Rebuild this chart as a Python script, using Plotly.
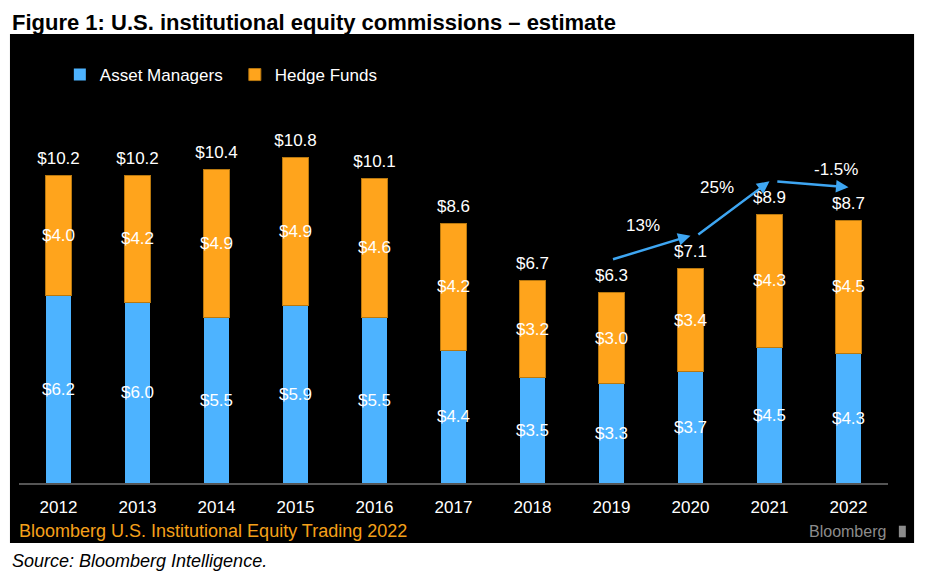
import plotly.graph_objects as go

years = ["2012", "2013", "2014", "2015", "2016", "2017", "2018", "2019", "2020", "2021", "2022"]
asset_managers = [6.2, 6.0, 5.5, 5.9, 5.5, 4.4, 3.5, 3.3, 3.7, 4.5, 4.3]
hedge_funds = [4.0, 4.2, 4.9, 4.9, 4.6, 4.2, 3.2, 3.0, 3.4, 4.3, 4.5]
totals = [10.2, 10.2, 10.4, 10.8, 10.1, 8.6, 6.7, 6.3, 7.1, 8.9, 8.7]
growth_labels = ["13%", "25%", "-1.5%"]  # 2019->2020, 2020->2021, 2021->2022

BLUE = "#4db3ff"
ORANGE = "#ffa41c"
ARROW = "#3ea6f2"
FONT = "Liberation Sans"

# orange segment heights so that each stack reaches the published total
hedge_heights = [t - a for t, a in zip(totals, asset_managers)]

fig = go.Figure()
fig.add_trace(go.Bar(
    x=years, y=asset_managers, name="Asset Managers",
    marker=dict(color=BLUE, line=dict(width=0)),
    text=["$%.1f" % v for v in asset_managers],
    textposition="inside", insidetextanchor="middle", textangle=0,
    constraintext="none", textfont=dict(color="white", size=17, family=FONT),
    width=0.32,
))
fig.add_trace(go.Bar(
    x=years, y=hedge_heights, name="Hedge Funds",
    marker=dict(color=ORANGE, line=dict(color="#b8780f", width=1)),
    text=["$%.1f" % v for v in hedge_funds],
    textposition="inside", insidetextanchor="middle", textangle=0,
    constraintext="none", textfont=dict(color="white", size=17, family=FONT),
    width=0.32,
))
# totals above the stacks (invisible markers just push the text up a little)
fig.add_trace(go.Scatter(
    x=years, y=totals, mode="markers+text",
    marker=dict(size=10, color="rgba(0,0,0,0)"),
    text=["$%.1f" % v for v in totals], textposition="top center",
    textfont=dict(color="white", size=17, family=FONT),
    showlegend=False, hoverinfo="skip", cliponaxis=False,
))

# growth arrows between the last years
annotations = []
lift = 1.1
idx0 = years.index("2019")
label_shift = [(-0.1, 0.75), (-0.2, 0.7), (0.3, 0.5)]
for k, lab in enumerate(growth_labels):
    i = idx0 + k
    x0, y0 = i + 0.0, totals[i] + lift
    x1, y1 = i + 1.0, totals[i + 1] + lift
    if k > 0:
        x0 += 0.08
    annotations.append(dict(
        x=x1, y=y1, ax=x0, ay=y0, xref="x", yref="y", axref="x", ayref="y",
        text="", showarrow=True, arrowhead=2, arrowsize=1, arrowwidth=2.5,
        arrowcolor=ARROW,
    ))
    dx, dy = label_shift[k]
    annotations.append(dict(
        x=(x0 + x1) / 2 + dx, y=(y0 + y1) / 2 + dy, xref="x", yref="y",
        text=lab, showarrow=False, font=dict(color="white", size=17, family=FONT),
    ))

annotations += [
    dict(x=-0.0104, y=1.271, xref="paper", yref="paper", xanchor="left", yanchor="middle",
         text="<b>Figure 1: U.S. institutional equity commissions – estimate</b>",
         showarrow=False, font=dict(color="black", size=22, family=FONT)),
    dict(x=-0.0023, y=-0.133, xref="paper", yref="paper", xanchor="left", yanchor="middle",
         text="Bloomberg U.S. Institutional Equity Trading 2022",
         showarrow=False, font=dict(color="#f5a01a", size=18, family=FONT)),
    dict(x=1.0, y=-0.133, xref="paper", yref="paper", xanchor="right", yanchor="middle",
         text="Bloomberg", showarrow=False, font=dict(color="#8c8c8c", size=16, family=FONT)),
    dict(x=-0.0104, y=-0.215, xref="paper", yref="paper", xanchor="left", yanchor="middle",
         text="<i>Source: Bloomberg Intelligence.</i>",
         showarrow=False, font=dict(color="black", size=18, family=FONT)),
]

shapes = [
    dict(type="rect", xref="paper", yref="paper", x0=-0.0104, x1=1.03, y0=-0.166, y1=1.240,
         fillcolor="black", line=dict(width=0), layer="below"),
    dict(type="rect", xref="paper", yref="paper", x0=1.0125, x1=1.0205, y0=-0.150, y1=-0.118,
         fillcolor="#8c8c8c", line=dict(width=0), layer="above"),
]

# the page body adds an 8px margin, so the figure is 8px smaller than the window
fig.update_layout(
    width=917, height=564,
    margin=dict(l=11, r=37, t=113, b=89),
    paper_bgcolor="white", plot_bgcolor="rgba(0,0,0,0)",
    barmode="stack", bargap=0.68,
    font=dict(family=FONT, color="white"),
    showlegend=True,
    legend=dict(orientation="h", x=0.047, y=1.127, xanchor="left", yanchor="middle",
                font=dict(color="white", size=17, family=FONT),
                bgcolor="rgba(0,0,0,0)", entrywidth=130, traceorder="normal"),
    xaxis=dict(range=[-0.5, len(years) - 0.5], showgrid=False, showline=True,
               linecolor="#555555", linewidth=2,
               ticks="outside", ticklen=8, tickcolor="black",
               tickfont=dict(color="white", size=17, family=FONT), fixedrange=True),
    yaxis=dict(range=[0, 12], visible=False, fixedrange=True),
    annotations=annotations,
    shapes=shapes,
)

fig.write_html("out.html")
